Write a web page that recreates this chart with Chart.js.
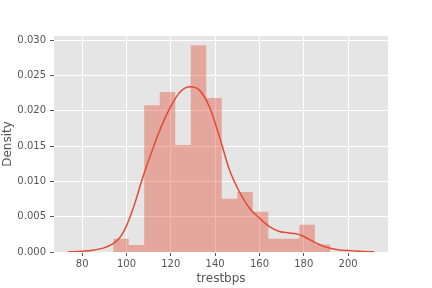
<!DOCTYPE html>
<html>
<head>
<meta charset="utf-8">
<script src="https://cdn.jsdelivr.net/npm/chart.js@4/dist/chart.umd.min.js"></script>
<style>
  html, body { margin: 0; padding: 0; background: #fff; }
  #wrap { width: 432px; height: 288px; }
</style>
</head>
<body>
<div id="wrap"><canvas id="chart" width="432" height="288"></canvas></div>
<script>
// Histogram of trestbps (bins of width 7 starting at 94)
const binStarts = [94, 101, 108, 115, 122, 129, 136, 143, 150, 157, 164, 171, 178, 185];
const binWidth = 7;
const binDensity = [0.00188, 0.00100, 0.02080, 0.02265, 0.01515, 0.02930, 0.02180,
                    0.00753, 0.00850, 0.00570, 0.00188, 0.00188, 0.00386, 0.00105];

// KDE curve
const kdeX = [73.7, 80, 85, 89.5, 93, 96, 98, 100, 102, 104, 106, 109, 112, 115, 118, 121, 124,
              128.5, 133, 137.5, 142, 146.5, 151, 155.5, 160, 164.5, 169, 173.5, 177.5, 180,
              183, 186, 189, 192, 195.5, 200, 205, 211.7];
const kdeY = [0.00003, 0.0001, 0.00025, 0.00055, 0.001, 0.0017, 0.0025, 0.0037, 0.0053, 0.0071,
              0.0092, 0.0121, 0.0147, 0.0172, 0.0194, 0.0212, 0.0226, 0.0234, 0.0229, 0.0205,
              0.0163, 0.0116, 0.0085, 0.0062, 0.0048, 0.0036, 0.0029, 0.0027, 0.0025, 0.0022,
              0.0017, 0.0012, 0.0008, 0.00052, 0.00033, 0.0002, 0.0001, 0.00003];

// Axis ticks
const xTicks = [80, 100, 120, 140, 160, 180, 200];
const yTicks = [0, 0.005, 0.010, 0.015, 0.020, 0.025, 0.030];

const RED = '#E24A33';
const GREY = '#555555';
Chart.defaults.font.family = 'DejaVu Sans';

// histogram as one stepped, filled outline so neighbouring bars don't leave seams
const histData = binStarts.map((s, i) => ({x: s, y: binDensity[i]}));
histData.push({x: binStarts[binStarts.length - 1] + binWidth, y: 0});
const kdeData = kdeX.map((x, i) => ({x: x, y: kdeY[i]}));

const chartAreaBg = {
  id: 'chartAreaBg',
  beforeDraw(chart) {
    const {ctx, chartArea: a} = chart;
    ctx.save();
    ctx.fillStyle = '#E5E5E5';
    ctx.fillRect(a.left, a.top, a.right - a.left, a.bottom - a.top);
    ctx.restore();
  }
};

new Chart(document.getElementById('chart'), {
  type: 'line',
  data: {
    datasets: [
      {
        data: kdeData,
        borderColor: RED,
        borderWidth: 1.5,
        pointRadius: 0,
        cubicInterpolationMode: 'monotone',
        fill: false,
        order: 0
      },
      {
        data: histData,
        stepped: 'before',
        backgroundColor: 'rgba(226,74,51,0.4)',
        borderWidth: 0,
        borderColor: 'rgba(0,0,0,0)',
        pointRadius: 0,
        fill: 'origin',
        order: 1
      }
    ]
  },
  options: {
    responsive: false,
    animation: false,
    layout: { padding: { left: 0, top: 36, right: 44, bottom: 0 } },
    plugins: { legend: { display: false }, tooltip: { enabled: false } },
    scales: {
      x: {
        type: 'linear',
        min: 67.3,
        max: 218.0,
        afterBuildTicks: axis => { axis.ticks = xTicks.map(v => ({value: v})); },
        afterFit: axis => { axis.height = 36; },
        grid: { color: '#FFFFFF', lineWidth: 1, tickColor: GREY, tickLength: 4 },
        border: { display: false },
        ticks: { color: GREY, font: { size: 10 }, padding: 2, maxRotation: 0 },
        title: { display: true, text: 'trestbps', color: GREY, font: { size: 12 }, padding: { top: 0, bottom: 2 } }
      },
      y: {
        min: 0,
        max: 0.0306,
        afterBuildTicks: axis => { axis.ticks = yTicks.map(v => ({value: v})); },
        afterFit: axis => { axis.width = 54; },
        grid: { color: '#FFFFFF', lineWidth: 1, tickColor: GREY, tickLength: 4 },
        border: { display: false },
        ticks: { color: GREY, font: { size: 10 }, padding: 4, callback: v => v.toFixed(3) },
        title: { display: true, text: 'Density', color: GREY, font: { size: 12 }, padding: { top: 1, bottom: 0 } }
      }
    }
  },
  plugins: [chartAreaBg]
});
</script>
</body>
</html>
